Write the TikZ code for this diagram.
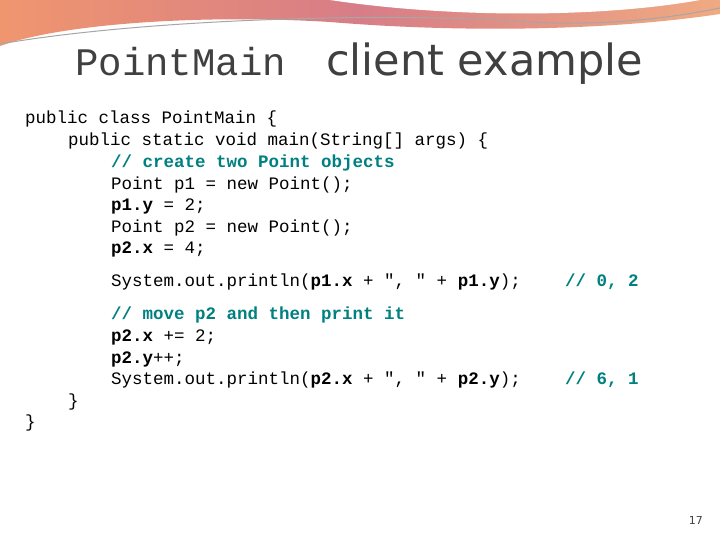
\documentclass[tikz,border=0pt]{standalone}
\usepackage{fontspec}
\setmainfont{DejaVu Sans}
\newfontfamily\cour{Liberation Mono}
\definecolor{cm}{RGB}{0,128,128}
\definecolor{ttl}{RGB}{64,64,64}
\begin{document}
\begin{tikzpicture}[x=1pt,y=-1pt,
  code/.style={anchor=base west,inner sep=0pt,font=\cour\fontsize{17.5}{20}\selectfont},
  cmt/.style={code,text=cm,font=\cour\bfseries\fontsize{17.5}{20}\selectfont}]
\useasboundingbox (0,0) rectangle (720,540);
\fill[white] (0,0) rectangle (720,540);
\shade[left color={rgb,255:red,240;green,150;blue,110},right color={rgb,255:red,240;green,170;blue,130}, middle color={rgb,255:red,215;green,125;blue,135}]
 (0,0) -- (720,0) -- (720,14) .. controls (600,32) and (450,32) .. (330,22) .. controls (200,14) and (60,24) .. (0,46) -- cycle;
\fill[white] (330,0) .. controls (450,18) and (600,18) .. (700,0) -- cycle;
\draw[gray!70,line width=1pt] (0,44) .. controls (150,18) and (400,12) .. (530,22) .. controls (620,27) and (690,14) .. (720,8);
\node[anchor=base west,inner sep=0pt,text=ttl] (t1) at (75,76) {\cour\fontsize{39}{42}\selectfont PointMain};
\node[anchor=base west,inner sep=0pt,text=ttl] (t2) at (326,76) {\fontsize{43}{46}\selectfont client example};
\node[code] (l1) at (25,124) {public class PointMain \{};
\node[code] (l2) at (68,146) {public static void main(String[] args) \{};
\node[cmt] (l3) at (111,168) {// create two Point objects};
\node[code] (l4) at (111,190) {Point p1 = new Point();};
\node[code] (l5) at (111,211) {\textbf{p1.y} = 2;};
\node[code] (l6) at (111,233) {Point p2 = new Point();};
\node[code] (l7) at (111,254) {\textbf{p2.x} = 4;};
\node[code] (l8) at (111,286) {System.out.println(\textbf{p1.x} + ", " + \textbf{p1.y});};
\node[cmt] (c1) at (565,286) {// 0, 2};
\node[cmt] (l9) at (111,319) {// move p2 and then print it};
\node[code] (l10) at (111,341) {\textbf{p2.x} += 2;};
\node[code] (l11) at (111,363) {\textbf{p2.y}++;};
\node[code] (l12) at (111,384) {System.out.println(\textbf{p2.x} + ", " + \textbf{p2.y});};
\node[cmt] (c2) at (565,384) {// 6, 1};
\node[code] (l13) at (68,406) {\}};
\node[code] (l14) at (25,427) {\}};
\node[anchor=base east,inner sep=0pt,text=ttl] (pg) at (703,524) {\fontsize{11}{12}\selectfont 17};
\end{tikzpicture}
\end{document}
